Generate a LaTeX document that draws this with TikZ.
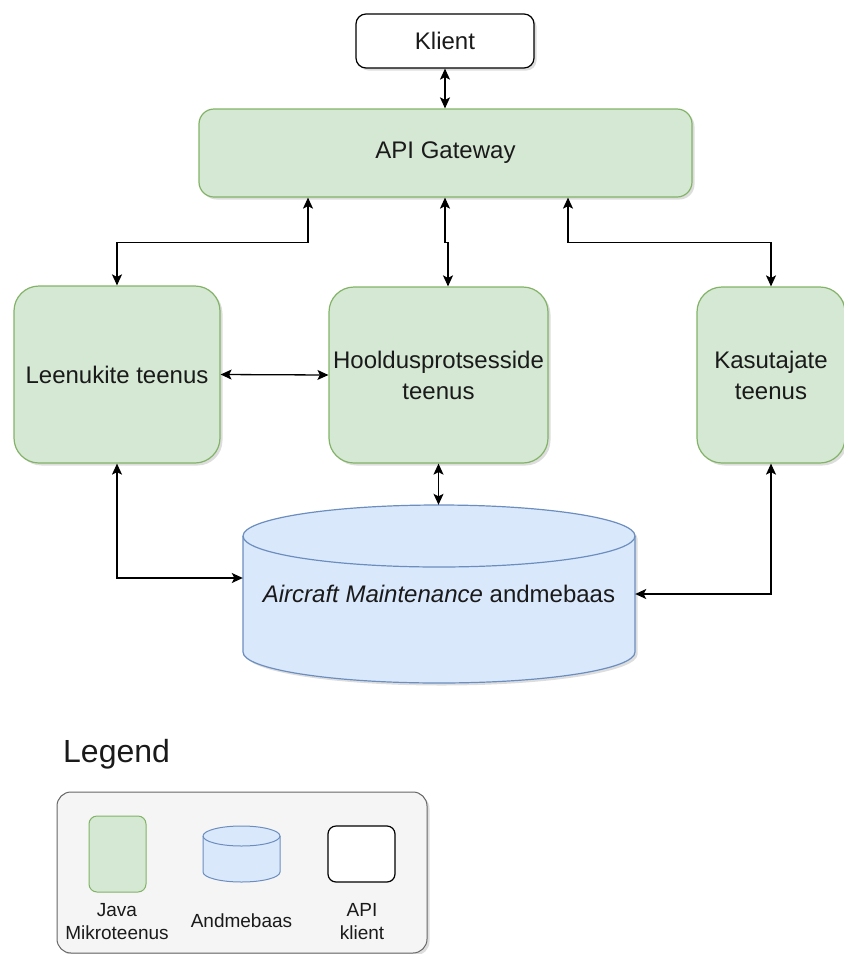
\documentclass[tikz,border=0pt]{standalone}
\usepackage{fontspec}
\setmainfont{Liberation Sans}
\usetikzlibrary{arrows.meta,shadows}
\definecolor{gfill}{HTML}{D5E8D4}
\definecolor{gdraw}{HTML}{82B366}
\definecolor{bfill}{HTML}{DAE8FC}
\definecolor{bdraw}{HTML}{6C8EBF}
\definecolor{lfill}{HTML}{F5F5F5}
\definecolor{ldraw}{HTML}{666666}
\definecolor{txt}{HTML}{1A1A1A}
\begin{document}
\begin{tikzpicture}[x=1pt,y=1pt,
  font=\fontsize{24}{31}\selectfont, text=txt,
  shd/.style={drop shadow={shadow xshift=2.5pt,shadow yshift=-2.5pt,opacity=0.22,fill=black!60}},
  svc/.style={draw=gdraw,fill=gfill,line width=1.2pt,rounded corners=25pt,align=center,inner sep=1pt,shd},
  clientbox/.style={draw=black,fill=white,line width=1.2pt,rounded corners=10pt,inner sep=1pt,shd},
  dbcyl/.style={draw=bdraw,fill=bfill,line width=1.2pt,shd},
  arr/.style={{Stealth[length=11pt,width=10pt,inset=2.5pt]}-{Stealth[length=11pt,width=10pt,inset=2.5pt]},line width=1.3pt,draw=black},
  legtext/.style={font=\fontsize{19}{23}\selectfont,align=center,inner sep=0pt}
]
\useasboundingbox (0,0) rectangle (844,-954);

% main nodes
\node[clientbox,minimum width=178,minimum height=54] (klient) at (445,-41) {Klient};
\node[svc,rounded corners=15pt,minimum width=493,minimum height=88] (gw) at (445.5,-153) {API Gateway};
\node[svc,minimum width=206,minimum height=177] (lsvc) at (117,-374.5) {Leenukite teenus};
\node[svc,minimum width=219,minimum height=176] (msvc) at (438.5,-375) {Hooldusprotsesside\\teenus};
\node[svc,minimum width=148,minimum height=176] (rsvc) at (771,-375) {Kasutajate\\teenus};

% database cylinder
\path[dbcyl] (243,-536) -- (243,-652) arc[start angle=180,end angle=360,x radius=196,y radius=31]
  -- (635,-536) arc[start angle=0,end angle=180,x radius=196,y radius=31] -- cycle;
\draw[draw=bdraw,line width=1.2pt] (243,-536) arc[start angle=180,end angle=360,x radius=196,y radius=31];
\node[minimum width=392,minimum height=178,inner sep=0pt] (db) at (439,-594) {\textit{Aircraft Maintenance} andmebaas};

% connectors
\draw[arr] (klient.south) -- (klient.south |- gw.north);
\draw[arr] ([xshift=-137.5pt]gw.south) -- ++(0,-45) -| (lsvc.north);
\draw[arr] ([xshift=-0.5pt]gw.south) -- ++(0,-45) -| ([xshift=9.5pt]msvc.north);
\draw[arr] ([xshift=122.5pt]gw.south) -- ++(0,-45) -| (rsvc.north);
\draw[arr] (lsvc.east) -- (msvc.west);
\draw[arr] (msvc.south) -- (msvc.south |- db.north);
\draw[arr] (lsvc.south) |- ([yshift=16pt]db.west);
\draw[arr] (rsvc.south) |- (db.east);

% legend
\node[font=\fontsize{32}{38}\selectfont,anchor=base west,inner sep=0pt] (legtitle) at (63,-762) {Legend};
\node[draw=ldraw,fill=lfill,line width=1pt,rounded corners=14pt,minimum width=370,minimum height=161,shd] (legbox) at (242,-872.5) {};
\node[draw=gdraw,fill=gfill,line width=1pt,rounded corners=8pt,minimum width=57,minimum height=76,inner sep=0pt] (legsvc) at (117.5,-854) {};
\path[draw=bdraw,fill=bfill,line width=1pt] (203,-836) -- (203,-872) arc[start angle=180,end angle=360,x radius=38.5,y radius=10]
  -- (280,-836) arc[start angle=0,end angle=180,x radius=38.5,y radius=10] -- cycle;
\draw[draw=bdraw,line width=1pt] (203,-836) arc[start angle=180,end angle=360,x radius=38.5,y radius=10];
\node[draw=black,fill=white,line width=1.2pt,rounded corners=8pt,minimum width=67,minimum height=56,inner sep=0pt] (legcli) at (361.5,-854) {};
\node[legtext] (lt1) at (117,-921.6) {Java\\Mikroteenus};
\node[legtext] (lt2) at (241.5,-921) {Andmebaas};
\node[legtext] (lt3) at (362,-921.6) {API\\klient};
\end{tikzpicture}
\end{document}
